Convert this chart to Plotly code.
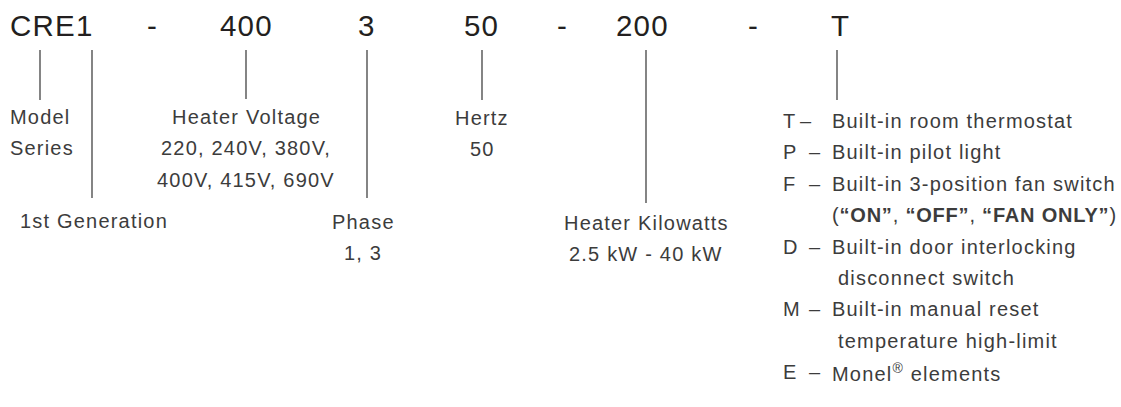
import plotly.graph_objects as go

# ---- data ----
code_parts = ["CRE1", "-", "400", "3", "50", "-", "200", "-", "T"]

labels_main = [
    ["Model", "Series"],
    ["1st Generation"],
    ["Heater Voltage", "220, 240V, 380V,", "400V, 415V, 690V"],
    ["Phase", "1, 3"],
    ["Hertz", "50"],
    ["Heater Kilowatts", "2.5 kW - 40 kW"],
]
option_letters = ["T", "P", "F", "D", "M", "E"]
option_text = [
    ["Built-in room thermostat"],
    ["Built-in pilot light"],
    ["Built-in 3-position fan switch", "(<b>“ON”</b>, <b>“OFF”</b>, <b>“FAN ONLY”</b>)"],
    ["Built-in door interlocking", "disconnect switch"],
    ["Built-in manual reset", "temperature high-limit"],
    ["Monel<sup>®</sup> elements"],
]

# ---- layout geometry ----
W, H = 1121, 407
FONT = "Liberation Sans, Arial, sans-serif"
CODE_COLOR = "#231f20"
TXT_COLOR = "#3c3c3c"
LINE_COLOR = "#333333"
code_x = [52, 152, 246, 367, 481, 562, 642, 753, 840]
code_y = 25
code_size = 29.5
lab_size = 20
SP = 1.2  # letter spacing px
row = 31.4

# connector lines: (x, y_top, y_bottom)
connectors = [(40, 50, 100), (92, 50, 198), (246, 50, 99), (367, 50, 198),
              (482, 50, 100), (646, 50, 203), (837, 50, 100)]

# label anchors: (x, y_first, anchor)
label_pos = [(8, 117, "left"), (94, 221, "center"), (246, 117, "center"),
             (363, 222, "center"), (482, 118, "center"), (646, 223, "center")]


def sp(t, s=SP):
    return f'<span style="letter-spacing:{s}px">{t}</span>'


fig = go.Figure()
fig.add_trace(go.Scatter(x=[0, W], y=[0, H], mode="markers",
                         marker=dict(opacity=0), hoverinfo="skip", showlegend=False))

ann = []
for t, x in zip(code_parts, code_x):
    ann.append(dict(x=x, y=code_y, text=sp(t, 1.2), xanchor="center", yanchor="middle",
                    font=dict(family=FONT, size=code_size, color=CODE_COLOR)))

for lines, (x, y0, anc) in zip(labels_main, label_pos):
    for i, t in enumerate(lines):
        ann.append(dict(x=x, y=y0 + i * row, text=sp(t), xanchor=anc, yanchor="middle",
                        font=dict(family=FONT, size=lab_size, color=TXT_COLOR)))

opt_y0 = 121
letter_x = 781
text_x = 830
r = 0
for k, (L, lines) in enumerate(zip(option_letters, option_text)):
    y = opt_y0 + r * row
    ann.append(dict(x=letter_x, y=y, text=L, xanchor="left", yanchor="middle",
                    font=dict(family=FONT, size=lab_size, color=TXT_COLOR)))
    dash_x = 806 if k == 0 else 815
    ann.append(dict(x=dash_x, y=y, text="–", xanchor="center", yanchor="middle",
                    font=dict(family=FONT, size=lab_size, color=TXT_COLOR)))
    for i, t in enumerate(lines):
        xx = text_x if (i == 0 or k == 2) else text_x + 6
        s = 0.8 if (k == 2 and i == 1) else SP
        ann.append(dict(x=xx, y=y + i * row, text=sp(t, s), xanchor="left", yanchor="middle",
                        font=dict(family=FONT, size=lab_size, color=TXT_COLOR)))
    r += len(lines)

for a in ann:
    a.update(xref="x", yref="y", showarrow=False)

shapes = [dict(type="line", xref="x", yref="y", x0=x, x1=x, y0=y0, y1=y1,
               line=dict(color=LINE_COLOR, width=1.2)) for x, y0, y1 in connectors]

fig.update_layout(
    width=W, height=H, margin=dict(l=0, r=0, t=0, b=0),
    paper_bgcolor="white", plot_bgcolor="white",
    xaxis=dict(range=[0, W], visible=False, fixedrange=True),
    yaxis=dict(range=[H, 0], visible=False, fixedrange=True),
    annotations=ann, shapes=shapes, showlegend=False,
)
fig.write_html("out.html", config={"displayModeBar": False},
               post_script="document.body.style.margin='0';")
